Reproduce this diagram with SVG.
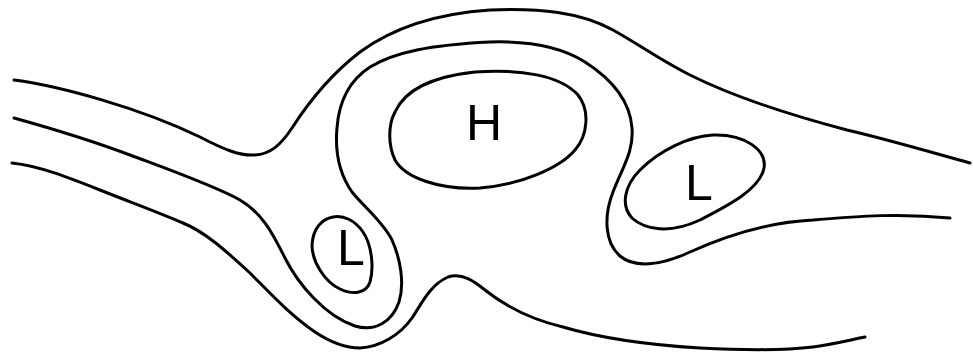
<svg xmlns="http://www.w3.org/2000/svg" width="973" height="353" viewBox="0 0 973 353">
<style>
.c{fill:none;stroke:#000;stroke-width:3;stroke-linecap:round;stroke-linejoin:round}
.t{font-family:"Liberation Sans",Arial,sans-serif;font-size:50px;fill:#000}
</style>
<rect width="973" height="353" fill="#fff"/>
<g id="isobars">
<path class="c" d="M14,80 C60,86 140,108 200,137 C225,150 240,156 255,155 C270,154 280,146 292,128 C310,100 330,75 360,52 C390,30 430,14 490,10 C540,8 580,12 613,30 C640,45 660,60 690,75 C730,95 790,115 847,130 C890,140 930,152 970,163"/>
<path class="c" d="M14,118 C50,128 90,140 130,155 C170,170 215,186 240,200 C262,213 272,232 285,258 C298,284 325,316 355,326 C375,332 392,322 399,302 C405,283 400,258 392,240 C383,222 365,208 352,192 C338,172 335,150 337,128 C339,100 350,80 370,67 C395,52 430,45 490,42 C525,41 560,46 585,62 C610,78 630,100 632,128 C634,152 622,168 613,192 C604,215 604,242 620,256 C634,268 660,266 690,252 C730,234 770,222 813,220 C860,216 900,213 950,218"/>
<path class="c" d="M12,163 C40,166 70,178 100,190 C130,202 160,213 183,223 C205,232 225,250 250,273 C270,293 290,315 315,332 C330,342 345,348 360,348 C380,347 400,335 412,318 C422,303 430,285 448,277 C462,272 475,282 485,290 C500,302 525,318 563,327 C600,338 650,345 700,348 C740,350 780,351 813,347 C835,344 850,340 865,337"/>
</g>
<g id="high">
<path class="c" d="M395,112 C405,90 430,77 475,72 C520,69 560,75 578,95 C590,110 588,135 575,150 C560,168 520,185 480,188 C440,190 405,178 395,160 C388,145 388,125 395,112 Z"/>
<text class="t" x="484" y="140" text-anchor="middle">H</text>
</g>
<g id="low-left">
<path class="c" d="M333,217 C322,219 313,228 312,245 C312,262 325,282 340,289 C352,295 366,294 370,282 C374,268 372,245 363,232 C355,220 343,215 333,217 Z"/>
<text class="t" x="337" y="265">L</text>
</g>
<g id="low-right">
<path class="c" d="M713,135 C690,136 660,150 640,170 C625,185 620,205 632,218 C645,230 670,234 700,220 C725,207 760,190 764,168 C767,150 745,134 713,135 Z"/>
<text class="t" x="685" y="200">L</text>
</g>
</svg>
